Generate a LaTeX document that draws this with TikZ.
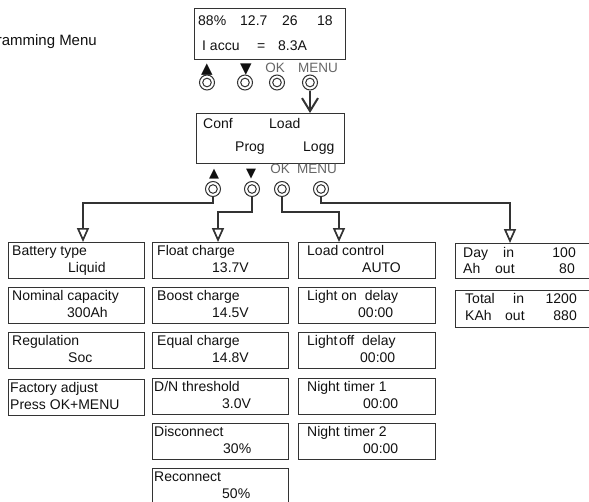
\documentclass[tikz,border=0pt]{standalone}
\usepackage{fontspec}
\setmainfont{Liberation Sans}
\newfontfamily\symf{DejaVu Sans}
\usetikzlibrary{arrows.meta,calc}
\definecolor{edge}{HTML}{333333}
\definecolor{ink}{HTML}{111111}
\definecolor{lab}{HTML}{666666}
\tikzset{
  lcd/.style={draw=edge, line width=1.1pt, minimum height=35.5pt, anchor=north west, inner sep=0pt},
  txt/.style={anchor=base west, inner sep=0pt, text=ink, font=\fontsize{14}{16}\selectfont},
  txtr/.style={anchor=base east, inner sep=0pt, text=ink, font=\fontsize{14}{16}\selectfont},
  btnlab/.style={anchor=base, inner sep=0pt, text=lab, font=\fontsize{13.5}{16}\selectfont},
  tri/.style={anchor=base, inner sep=0pt, text=ink, font=\symf\fontsize{#1}{20}\selectfont},
  btn/.style={circle, draw=edge, line width=1pt, minimum size=15pt, inner sep=0pt, fill=white},
  conn/.style={draw=edge, line width=1.1pt},
  opentip/.style={-{Triangle[open,length=14pt,width=12pt,line width=1.7pt]}},
  vtip/.style={-{Straight Barb[length=13pt,width=16pt,line width=2pt]}}
}
\newcommand\lcdbox[8]{%
  \node[lcd, minimum width=#4pt] (#1) at (#2,#3) {};
  \node[txt] (#1-a) at (#2+#5,#3+13.5) {#6};
  \node[txt] (#1-b) at (#2+#7,#3+30) {#8};
}
\newcommand\pushbtn[3]{%
  \node[btn] (#1) at (#2,#3) {};
  \draw[edge, line width=1pt] (#1.center) circle (4.3pt);
}
\begin{document}
\begin{tikzpicture}[x=1pt,y=-1pt]
\useasboundingbox (0,0) rectangle (589,501);
\begin{scope}
\clip (0,0) rectangle (589,501);

% title (cut at the left edge)
\node[txtr, font=\fontsize{15}{17}\selectfont] (title) at (97,45) {Programming Menu};

% top display
\node[lcd, minimum width=151pt, minimum height=51pt] (disp) at (194,8) {};
\node[txt] (d1) at (198,25) {88\%};
\node[txt] (d2) at (240,25) {12.7};
\node[txt] (d3) at (282,25) {26};
\node[txt] (d4) at (317,25) {18};
\node[txt] (d5) at (202,50) {I accu};
\node[txt] (d6) at (257,50) {=};
\node[txt] (d7) at (278,50) {8.3A};

% top buttons
\node[tri=15] (t1) at (207,73.5) {▲};
\node[tri=15] (t2) at (246,73.5) {▼};
\node[btnlab] (t3) at (275,72) {OK};
\node[btnlab] (t4) at (318,72) {MENU};
\pushbtn{u1}{207}{82.5}
\pushbtn{u2}{245}{82.5}
\pushbtn{u3}{277}{82.5}
\pushbtn{u4}{310}{82.5}

% menu display
\node[lcd, minimum width=148pt, minimum height=50pt] (menu) at (196,113) {};
\node[txt] (m1) at (203,128) {Conf};
\node[txt] (m2) at (269,128) {Load};
\node[txt] (m3) at (235,151) {Prog};
\node[txt] (m4) at (303,151) {Logg};
\draw[conn, vtip] (u4.south) -- (u4.south |- menu.north);

% lower buttons
\node[tri=13] (s1) at (214,177) {▲};
\node[tri=13] (s2) at (251,177) {▼};
\node[btnlab] (s3) at (280,173) {OK};
\node[btnlab] (s4) at (317,173) {MENU};
\pushbtn{p1}{213}{189}
\pushbtn{p2}{252}{189}
\pushbtn{p3}{282}{189}
\pushbtn{p4}{321}{189}

% column 1
\lcdbox{bat}{8}{242}{136}{4}{Battery type}{60}{Liquid}
\lcdbox{nom}{8}{287}{136}{4}{Nominal capacity}{59}{300Ah}
\lcdbox{reg}{8}{332}{136}{4}{Regulation}{60}{Soc}
\lcdbox{fac}{8}{379}{136}{2}{Factory adjust}{2}{Press OK+MENU}

% column 2
\lcdbox{flo}{152}{242}{136}{5}{Float charge}{60}{13.7V}
\lcdbox{boo}{152}{287}{136}{5}{Boost charge}{60}{14.5V}
\lcdbox{equ}{152}{332}{136}{5}{Equal charge}{60}{14.8V}
\lcdbox{dnt}{152}{378}{136}{2}{D/N threshold}{70}{3.0V}
\lcdbox{dis}{152}{423}{136}{2}{Disconnect}{71}{30\%}
\lcdbox{rec}{152}{468}{136}{2}{Reconnect}{70}{50\%}

% column 3
\lcdbox{loa}{298}{242}{137}{9}{Load control}{64}{AUTO}
\lcdbox{lon}{298}{287}{137}{9}{Light on~ delay}{60}{00:00}
\lcdbox{lof}{298}{332}{137}{9}{Light\hspace{1.5pt}off~ delay}{62}{00:00}
\lcdbox{nt1}{298}{378}{137}{9}{Night timer 1}{65}{00:00}
\lcdbox{nt2}{298}{423}{137}{9}{Night timer 2}{65}{00:00}

% column 4
\node[lcd, minimum width=140pt, minimum height=35pt] (day) at (455,243) {};
\node[txt] (da1) at (463,257) {Day};
\node[txt] (da2) at (503,257) {in};
\node[txtr] (da3) at (576,257) {100};
\node[txt] (da4) at (463,273) {Ah};
\node[txt] (da5) at (495,273) {out};
\node[txtr] (da6) at (575,273) {80};
\node[lcd, minimum width=140pt, minimum height=37pt] (tot) at (455,290) {};
\node[txt] (to1) at (465,303) {Total};
\node[txt] (to2) at (513,303) {in};
\node[txtr] (to3) at (577,303) {1200};
\node[txt] (to4) at (465,320) {KAh};
\node[txt] (to5) at (505,320) {out};
\node[txtr] (to6) at (577,320) {880};

% connectors
\draw[conn, opentip] (p1.south) |- ([xshift=75pt]bat.north west |- 0,203) -- ([xshift=75pt]bat.north west);
\draw[conn, opentip] (p2.south) |- ([xshift=66pt]flo.north west |- 0,212) -- ([xshift=66pt]flo.north west);
\draw[conn, opentip] (p3.south) |- ([xshift=41pt]loa.north west |- 0,212) -- ([xshift=41pt]loa.north west);
\draw[conn, opentip] (p4.south) |- ([xshift=55pt]day.north west |- 0,203) -- ([xshift=55pt]day.north west);
\end{scope}
\end{tikzpicture}
\end{document}
